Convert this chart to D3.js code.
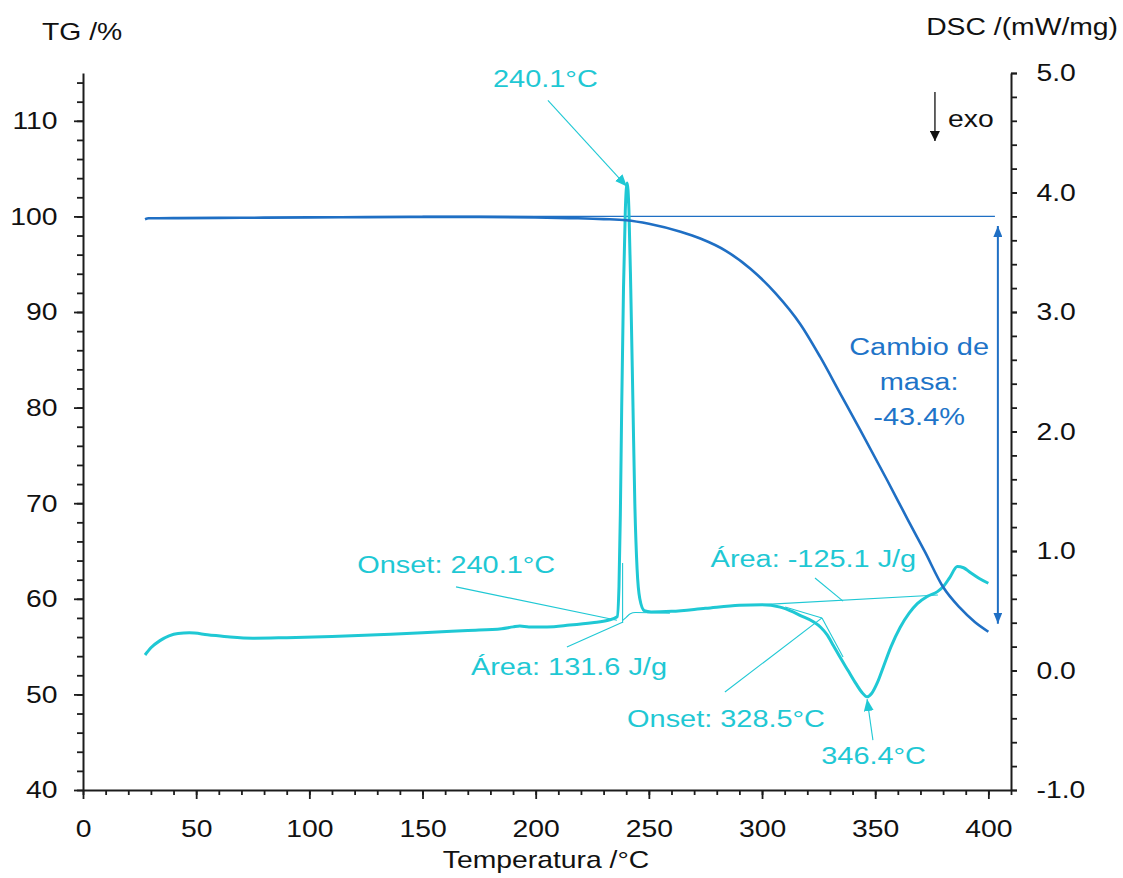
<!DOCTYPE html>
<html><head><meta charset="utf-8">
<script src="https://cdn.jsdelivr.net/npm/d3@7"></script>
<style>
html,body{margin:0;padding:0;background:#fff;}
svg{display:block;}
</style></head><body>
<svg id="chart" width="1123" height="878"></svg>
<script>
// ---------- data ----------
const tgTemp = [27.4, 29, 40, 60, 80, 100, 125, 150, 175, 200, 215, 230, 240, 250, 264, 273, 284, 295, 306, 317, 325.7, 334.5, 343.3, 355.3, 364.5, 372, 380, 387.5, 394, 400];
const tgMass = [99.7, 99.8, 99.82, 99.85, 99.87, 99.9, 99.92, 99.95, 99.95, 99.9, 99.82, 99.72, 99.6, 99.23, 98.39, 97.66, 96.4, 94.5, 91.95, 88.7, 85.3, 81.5, 77.7, 72.4, 68.24, 64.9, 61.23, 59.04, 57.57, 56.55];

const dscTemp = [27.4, 30, 34, 38, 42, 47, 55, 65, 75, 90, 110, 130, 150, 170, 185, 190, 193, 197, 205, 215, 225, 232, 236, 236.8, 237.4, 238.0, 238.8, 239.6, 240.4, 241.2, 242.0, 243.0, 243.8, 244.8, 246, 248, 251, 260, 275, 290, 300, 308, 313.7, 317, 322.5, 326, 328.7, 331.5, 334.5, 338, 341.5, 344, 346.4, 348.5, 351, 353.6, 357, 361, 365, 368.6, 373, 377.5, 380, 383, 386.3, 389, 392, 396, 400];
const dscSignal = [0.13, 0.19, 0.25, 0.29, 0.31, 0.315, 0.30, 0.28, 0.27, 0.275, 0.285, 0.30, 0.315, 0.335, 0.35, 0.365, 0.372, 0.365, 0.365, 0.38, 0.40, 0.42, 0.45, 0.7, 1.3, 2.2, 3.2, 3.85, 4.08, 3.85, 3.2, 2.2, 1.4, 0.85, 0.6, 0.5, 0.49, 0.495, 0.52, 0.545, 0.55, 0.53, 0.49, 0.46, 0.41, 0.36, 0.30, 0.21, 0.11, 0.0, -0.11, -0.18, -0.22, -0.19, -0.10, 0.03, 0.2, 0.36, 0.48, 0.56, 0.62, 0.66, 0.70, 0.78, 0.87, 0.86, 0.82, 0.77, 0.73];

const xTicks = [0, 50, 100, 150, 200, 250, 300, 350, 400];
const tgTicks = [40, 50, 60, 70, 80, 90, 100, 110];
const dscTicks = [-1, 0, 1, 2, 3, 4, 5];

// annotations in data units (DSC axis): [t1, v1, t2, v2]
const dscCallouts = [
  [164.8, 0.70, 235.9, 0.42],
  [213.8, 0.197, 238.6, 0.406],
  [323.4, 0.774, 335.8, 0.58],
  [283.6, -0.18, 326.5, 0.44]
];
const dscTangents = [
  [238.4, 0.40, 238.4, 0.9],
  [310.2, 0.531, 326.5, 0.44],
  [326.5, 0.44, 335.8, 0.113],
  [296.9, 0.548, 377.7, 0.632]
];
const spikeBaseT = [238.5, 240, 241.8, 244, 259.3];
const spikeBaseV = [0.42, 0.445, 0.475, 0.485, 0.48];
const dscArrows = [
  [205.4, 4.77, 240.3, 4.05],
  [349.0, -0.582, 346.4, -0.239]
];
const dscLabels = [
  ["240.1°C", 204.3, 4.885],
  ["Onset: 240.1°C", 164.9, 0.816],
  ["Área: 131.6 J/g", 214.7, -0.038],
  ["Área: -125.1 J/g", 322.7, 0.866],
  ["Onset: 328.5°C", 284.1, -0.473],
  ["346.4°C", 349.3, -0.783]
];
const massRef = [150, 402.9, 100];
const massArrow = [404.2, 99.0, 57.4];
const massLabelT = 369.4;
const massLabel = [["Cambio de", 85.5], ["masa:", 81.8], ["-43.4%", 78.2]];
const exoArrow = [376.4, 4.84, 4.43];
const exoLabel = ["exo", 382.2, 4.55];

// ---------- setup ----------
const SX = 1.18;
const FONT = '"Liberation Sans", Arial, Helvetica, sans-serif';
const AX = "#1c1c1c";
const BLUE = "#1f6fc4";
const BLUE_TXT = "#1e74c8";
const CYAN = "#1fc8d4";

const svg = d3.select("#chart");
const x = d3.scaleLinear().domain([0, 410]).range([83, 1011]);
const yTG = d3.scaleLinear().domain([40, 115]).range([790, 73]);
const yD = d3.scaleLinear().domain([-1, 5]).range([790, 73]);

const defs = svg.append("defs");
function marker(id, color, w, h) {
  defs.append("marker").attr("id", id).attr("markerUnits", "userSpaceOnUse")
    .attr("viewBox", `0 0 ${w} ${h}`).attr("markerWidth", w).attr("markerHeight", h)
    .attr("refX", w).attr("refY", h / 2).attr("orient", "auto-start-reverse")
    .append("path").attr("d", `M0,0L${w},${h/2}L0,${h}Z`).attr("fill", color);
}
marker("mCyan", CYAN, 12, 10);
marker("mBlue", BLUE, 11, 9);
marker("mBlack", "#111", 10, 10);

function label(px, py, txt, anchor, color, size) {
  svg.append("text").attr("transform", `translate(${px},${py}) scale(${SX},1)`)
    .attr("text-anchor", anchor).attr("fill", color).attr("font-family", FONT)
    .attr("font-size", size).text(txt);
}

function styleAxis(g) {
  g.select("path.domain").attr("stroke", AX).attr("stroke-width", 2);
  g.selectAll(".tick line").attr("stroke", AX).attr("stroke-width", 1.8);
  g.selectAll("text").attr("font-family", FONT).attr("font-size", 24).attr("fill", "#111");
}

// bottom axis
svg.append("g").attr("transform", "translate(0,790)")
  .call(d3.axisBottom(x).tickValues(d3.range(0, 411, 10)).tickSize(5).tickSizeOuter(0).tickFormat(""))
  .call(styleAxis);
svg.append("g").attr("transform", "translate(0,790)")
  .call(d3.axisBottom(x).tickValues(xTicks).tickSize(9).tickSizeOuter(0).tickFormat(d3.format("d")))
  .call(styleAxis)
  .call(g => g.select(".domain").remove())
  .call(g => g.selectAll("text").attr("y", 29.5).attr("dy", "0.71em").attr("transform", `scale(${SX},1)`));

// left axis
svg.append("g").attr("transform", "translate(83,0)")
  .call(d3.axisLeft(yTG).tickValues(d3.range(40, 115, 2)).tickSize(6).tickSizeOuter(0).tickFormat(""))
  .call(styleAxis);
svg.append("g").attr("transform", "translate(83,0)")
  .call(d3.axisLeft(yTG).tickValues(tgTicks).tickSize(9).tickSizeOuter(0).tickFormat(d3.format("d")))
  .call(styleAxis)
  .call(g => g.select(".domain").remove())
  .call(g => g.selectAll("text").attr("x", -25.5 / SX).attr("dy", "0.33em").attr("transform", `scale(${SX},1)`));

// right axis
svg.append("g").attr("transform", "translate(1011,0)")
  .call(d3.axisRight(yD).tickValues(d3.range(0, 31).map(i => -1 + i * 0.2)).tickSize(6).tickSizeOuter(0).tickFormat(""))
  .call(styleAxis);
svg.append("g").attr("transform", "translate(1011,0)")
  .call(d3.axisRight(yD).tickValues(dscTicks).tickSize(6).tickSizeOuter(0).tickFormat(v => v.toFixed(1)))
  .call(styleAxis)
  .call(g => g.select(".domain").remove())
  .call(g => g.selectAll("text").attr("x", 25.5 / SX).attr("dy", "0.33em").attr("transform", `scale(${SX},1)`));

// axis titles
label(42, 40, "TG /%", "start", "#111", 24);
label(1118, 35, "DSC /(mW/mg)", "end", "#111", 24);
label(546, 868, "Temperatura /°C", "middle", "#111", 24);

// ---------- TG annotations ----------
svg.append("line").attr("x1", x(massRef[0])).attr("x2", x(massRef[1]))
  .attr("y1", yTG(massRef[2])).attr("y2", yTG(massRef[2]))
  .attr("stroke", BLUE).attr("stroke-width", 1.3);
svg.append("line").attr("x1", x(massArrow[0])).attr("x2", x(massArrow[0]))
  .attr("y1", yTG(massArrow[1])).attr("y2", yTG(massArrow[2]))
  .attr("stroke", BLUE).attr("stroke-width", 2)
  .attr("marker-start", "url(#mBlue)").attr("marker-end", "url(#mBlue)");
massLabel.forEach(d => label(x(massLabelT), yTG(d[1]), d[0], "middle", BLUE_TXT, 24.5));

// ---------- DSC annotations ----------
const ann = svg.append("g").attr("stroke", CYAN).attr("fill", "none").attr("stroke-width", 1.1);
dscCallouts.concat(dscTangents).forEach(d => {
  ann.append("line").attr("x1", x(d[0])).attr("y1", yD(d[1])).attr("x2", x(d[2])).attr("y2", yD(d[3]));
});
ann.append("path").datum(spikeBaseT.map((t, i) => [t, spikeBaseV[i]]))
  .attr("d", d3.line().x(d => x(d[0])).y(d => yD(d[1])).curve(d3.curveMonotoneX));
dscArrows.forEach(d => {
  ann.append("line").attr("x1", x(d[0])).attr("y1", yD(d[1])).attr("x2", x(d[2])).attr("y2", yD(d[3]))
    .attr("marker-end", "url(#mCyan)");
});
dscLabels.forEach(d => label(x(d[1]), yD(d[2]), d[0], "middle", CYAN, 24.5));

// exo
svg.append("line").attr("x1", x(exoArrow[0])).attr("x2", x(exoArrow[0]))
  .attr("y1", yD(exoArrow[1])).attr("y2", yD(exoArrow[2]))
  .attr("stroke", "#111").attr("stroke-width", 1.3).attr("marker-end", "url(#mBlack)");
label(x(exoLabel[1]), yD(exoLabel[2]), exoLabel[0], "start", "#111", 24);

// ---------- curves ----------
const tgData = tgTemp.map((t, i) => ({t, v: tgMass[i]}));
const dscData = dscTemp.map((t, i) => ({t, v: dscSignal[i]}));

svg.append("path").datum(dscData)
  .attr("d", d3.line().x(d => x(d.t)).y(d => yD(d.v)).curve(d3.curveMonotoneX))
  .attr("fill", "none").attr("stroke", CYAN).attr("stroke-width", 3);

svg.append("path").datum(tgData)
  .attr("d", d3.line().x(d => x(d.t)).y(d => yTG(d.v)).curve(d3.curveMonotoneX))
  .attr("fill", "none").attr("stroke", BLUE).attr("stroke-width", 2.6);
</script>
</body></html>
